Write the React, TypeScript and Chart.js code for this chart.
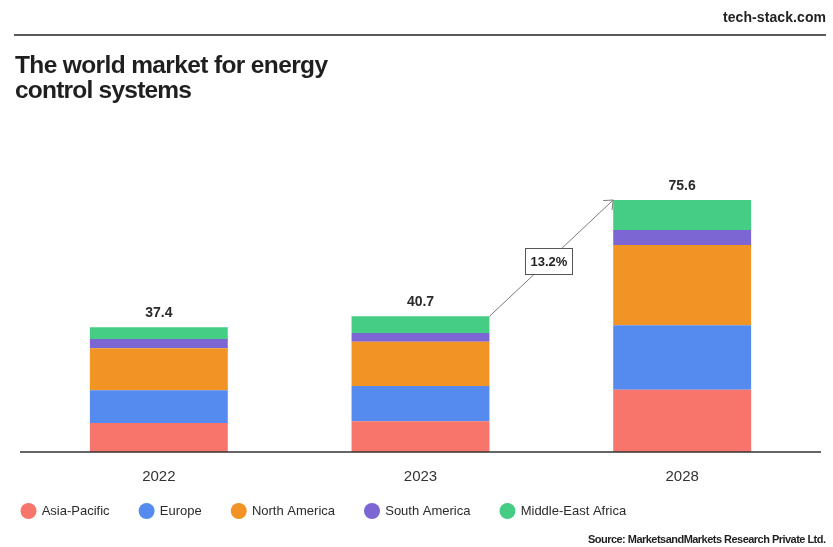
import React, { useEffect, useRef } from "react";
import { Chart, registerables } from "chart.js";

Chart.register(...registerables);

const years = ["2022", "2023", "2028"];
const totals = [37.4, 40.7, 75.6];
const asiaPacific = [8.7, 9.2, 18.7];
const europe = [9.8, 10.6, 19.3];
const northAmerica = [12.6, 13.3, 24.1];
const southAmerica = [2.8, 2.6, 4.5];
const middleEastAfrica = [3.5, 5.0, 9.0];
const seriesNames = ["Asia-Pacific", "Europe", "North America", "South America", "Middle-East Africa"];
const seriesColors = ["#F7756A", "#558BEE", "#F19325", "#7C66D4", "#45CD85"];
const seriesValues = [asiaPacific, europe, northAmerica, southAmerica, middleEastAfrica];
const cagrLabel = "13.2%";
const titleLines = ["The world market for energy", "control systems"];
const siteLabel = "tech-stack.com";
const sourceLabel = "Source: MarketsandMarkets Research Private Ltd.";
const yMax = 90;

const FAMILY = '"Liberation Sans", Arial, Helvetica, sans-serif';

function drawFitted(ctx: CanvasRenderingContext2D, text: string, left: number, y: number, target: number) {
  (ctx as any).letterSpacing = "0px";
  const w = ctx.measureText(text).width;
  const n = Math.max(1, text.length - 1);
  const ls = (target - w) / n;
  (ctx as any).letterSpacing = ls.toFixed(3) + "px";
  ctx.textAlign = "left";
  ctx.fillText(text, left, y);
  (ctx as any).letterSpacing = "0px";
}

const decorPlugin = {
  id: "decor",
  afterDatasetsDraw(chart: any) {
    const ctx: CanvasRenderingContext2D = chart.ctx;
    ctx.save();

    // header
    ctx.fillStyle = "#222";
    ctx.textBaseline = "alphabetic";
    ctx.font = `bold 14px ${FAMILY}`;
    drawFitted(ctx, siteLabel, 826 - 103, 22, 103);
    ctx.strokeStyle = "#222";
    ctx.lineWidth = 1.5;
    ctx.beginPath();
    ctx.moveTo(14, 35);
    ctx.lineTo(826, 35);
    ctx.stroke();

    // title
    ctx.font = `bold 24.5px ${FAMILY}`;
    ctx.fillStyle = "#1f1f1f";
    drawFitted(ctx, titleLines[0], 15, 73, 313);
    drawFitted(ctx, titleLines[1], 15, 98, 177);

    // baseline
    const area = chart.chartArea;
    ctx.strokeStyle = "#333";
    ctx.lineWidth = 1.3;
    ctx.beginPath();
    ctx.moveTo(20, area.bottom);
    ctx.lineTo(821, area.bottom);
    ctx.stroke();

    // totals
    const topMeta = chart.getDatasetMeta(seriesValues.length - 1);
    ctx.font = `bold 14px ${FAMILY}`;
    ctx.fillStyle = "#2a2a2a";
    ctx.textAlign = "center";
    ctx.textBaseline = "alphabetic";
    topMeta.data.forEach((bar: any, i: number) => {
      ctx.fillText(totals[i].toFixed(1), bar.x, bar.y - 10.5);
    });

    // arrow from 2023 to 2028
    const b1 = topMeta.data[1];
    const b2 = topMeta.data[2];
    const x1 = b1.x + b1.width / 2;
    const y1 = b1.y;
    const x2 = b2.x - b2.width / 2;
    const y2 = b2.y;
    ctx.strokeStyle = "#7a7a7a";
    ctx.lineWidth = 1;
    ctx.beginPath();
    ctx.moveTo(x1, y1);
    ctx.lineTo(x2, y2);
    ctx.stroke();
    const ang = Math.atan2(y1 - y2, x1 - x2);
    const hl = 10;
    const spread = (40 * Math.PI) / 180;
    ctx.beginPath();
    ctx.moveTo(x2 + hl * Math.cos(ang + spread), y2 + hl * Math.sin(ang + spread));
    ctx.lineTo(x2, y2);
    ctx.lineTo(x2 + hl * Math.cos(ang - spread), y2 + hl * Math.sin(ang - spread));
    ctx.stroke();

    // cagr box
    const t = 0.476;
    const bx = x1 + (x2 - x1) * t;
    const by = y1 + (y2 - y1) * t + 0.5;
    const bw = 47;
    const bh = 26;
    ctx.fillStyle = "#fff";
    ctx.fillRect(bx - bw / 2, by - bh / 2, bw, bh);
    ctx.strokeStyle = "#555";
    ctx.lineWidth = 1;
    ctx.strokeRect(Math.round(bx - bw / 2) + 0.5, Math.round(by - bh / 2) + 0.5, bw, bh);
    ctx.font = `bold 13px ${FAMILY}`;
    ctx.fillStyle = "#222";
    ctx.textAlign = "center";
    ctx.textBaseline = "middle";
    ctx.fillText(cagrLabel, bx + 0.5, by + 1);

    // legend
    ctx.font = `13px ${FAMILY}`;
    ctx.textBaseline = "middle";
    ctx.textAlign = "left";
    let cx = 28.5;
    const cy = 511;
    seriesNames.forEach((name, i) => {
      ctx.fillStyle = seriesColors[i];
      ctx.beginPath();
      ctx.arc(cx, cy, 8, 0, Math.PI * 2);
      ctx.fill();
      ctx.fillStyle = "#2b2b2b";
      const tx = cx + 13.2;
      ctx.fillText(name, tx, cy + 0.5);
      const w = ctx.measureText(name).width;
      cx = tx + w + 37;
    });

    // source
    ctx.font = `bold 11px ${FAMILY}`;
    ctx.fillStyle = "#1f1f1f";
    ctx.textBaseline = "alphabetic";
    drawFitted(ctx, sourceLabel, 826 - 238, 543, 238);

    ctx.restore();
  },
};

export default function App() {
  const ref = useRef<HTMLCanvasElement | null>(null);

  useEffect(() => {
    document.body.style.margin = "0";
    const canvas = ref.current;
    if (!canvas) return;
    const chart = new Chart(canvas, {
      type: "bar",
      data: {
        labels: years,
        datasets: seriesNames.map((name, i) => ({
          label: name,
          data: seriesValues[i],
          backgroundColor: seriesColors[i],
          borderWidth: 0,
          categoryPercentage: 1,
          barPercentage: 0.527,
        })),
      },
      options: {
        animation: false,
        responsive: false,
        maintainAspectRatio: false,
        devicePixelRatio: 1,
        layout: { padding: { left: 28, right: 20, top: 152, bottom: 0 } },
        plugins: {
          legend: { display: false },
          tooltip: { enabled: false },
          title: { display: false },
        },
        scales: {
          x: {
            stacked: true,
            grid: { display: false, drawTicks: false },
            border: { display: false },
            ticks: {
              color: "#333",
              font: { family: FAMILY, size: 15 },
              padding: 16,
            },
            afterFit: (scale: any) => {
              scale.height = 95;
            },
          },
          y: {
            stacked: true,
            display: false,
            min: 0,
            max: yMax,
          },
        },
      },
      plugins: [decorPlugin],
    } as any);
    return () => chart.destroy();
  }, []);

  return (
    <div style={{ position: "fixed", left: 0, top: 0, width: 833, height: 547, background: "#fff" }}>
      <canvas ref={ref} width={833} height={547} style={{ display: "block", width: 833, height: 547 }} />
    </div>
  );
}
